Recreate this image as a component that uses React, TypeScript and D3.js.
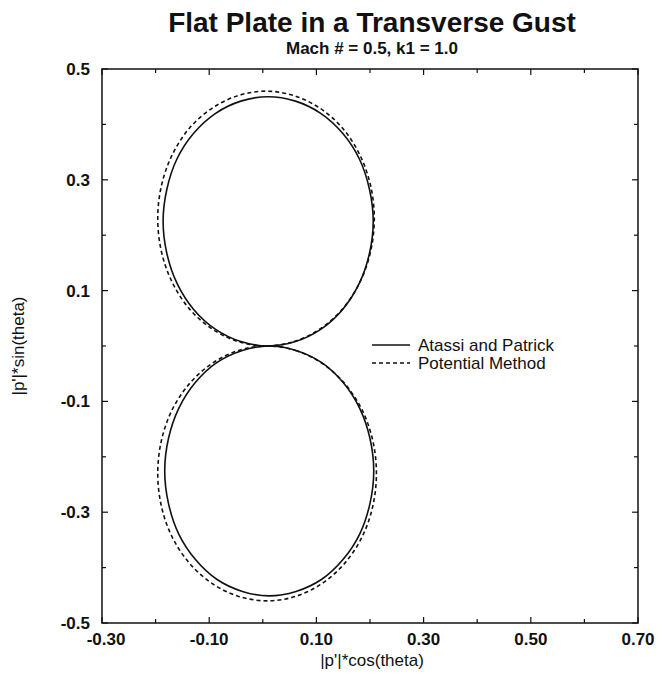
import React from "react";
import * as d3 from "d3";

type P = [number, number];

// Atassi and Patrick (solid) – upper and lower lobes
const atassiUpper: P[] = [
  [0.010, 0.000], [0.061, 0.008], [0.108, 0.030], [0.149, 0.066], [0.180, 0.113],
  [0.199, 0.167], [0.206, 0.225], [0.199, 0.283], [0.180, 0.338], [0.149, 0.384],
  [0.108, 0.420], [0.061, 0.442], [0.010, 0.450], [-0.041, 0.442], [-0.088, 0.420],
  [-0.129, 0.384], [-0.160, 0.338], [-0.179, 0.283], [-0.186, 0.225], [-0.179, 0.167],
  [-0.160, 0.113], [-0.129, 0.066], [-0.088, 0.030], [-0.041, 0.008],
];
const atassiLower: P[] = [
  [0.012, 0.000], [0.062, -0.008], [0.110, -0.030], [0.150, -0.066], [0.181, -0.113],
  [0.200, -0.167], [0.207, -0.226], [0.200, -0.284], [0.181, -0.339], [0.150, -0.385],
  [0.110, -0.421], [0.062, -0.443], [0.012, -0.451], [-0.038, -0.443], [-0.086, -0.421],
  [-0.126, -0.385], [-0.157, -0.339], [-0.176, -0.284], [-0.183, -0.226], [-0.176, -0.167],
  [-0.157, -0.113], [-0.126, -0.066], [-0.086, -0.030], [-0.038, -0.008],
];
// Potential Method (dashed)
const potentialUpper: P[] = [
  [0.006, 0.000], [0.058, 0.008], [0.107, 0.031], [0.149, 0.067], [0.181, 0.115],
  [0.201, 0.170], [0.208, 0.230], [0.201, 0.290], [0.181, 0.345], [0.149, 0.393],
  [0.107, 0.429], [0.058, 0.452], [0.006, 0.460], [-0.046, 0.452], [-0.095, 0.429],
  [-0.137, 0.393], [-0.169, 0.345], [-0.189, 0.290], [-0.196, 0.230], [-0.189, 0.170],
  [-0.169, 0.115], [-0.137, 0.067], [-0.095, 0.031], [-0.046, 0.008],
];
const potentialLower: P[] = [
  [0.008, 0.000], [0.061, -0.008], [0.110, -0.031], [0.152, -0.067], [0.185, -0.115],
  [0.205, -0.170], [0.212, -0.230], [0.205, -0.290], [0.185, -0.345], [0.152, -0.393],
  [0.110, -0.429], [0.061, -0.452], [0.008, -0.460], [-0.045, -0.452], [-0.094, -0.429],
  [-0.136, -0.393], [-0.169, -0.345], [-0.189, -0.290], [-0.196, -0.230], [-0.189, -0.170],
  [-0.169, -0.115], [-0.136, -0.067], [-0.094, -0.031], [-0.045, -0.008],
];

const xTickLabels = ["-0.30", "-0.10", "0.10", "0.30", "0.50", "0.70"];
const yTickLabels = ["0.5", "0.3", "0.1", "-0.1", "-0.3", "-0.5"];
const minorTicks = [-0.3, -0.2, -0.1, 0.0, 0.1, 0.2, 0.3, 0.4, 0.5, 0.6, 0.7];
const minorYTicks = [-0.5, -0.4, -0.3, -0.2, -0.1, 0.0, 0.1, 0.2, 0.3, 0.4, 0.5];

const seriesNames = ["Atassi and Patrick", "Potential Method"];

export default function App() {
  const left = 102, right = 638, top = 69, bottom = 623;
  const x = d3.scaleLinear().domain([-0.3, 0.7]).range([left, right]);
  const y = d3.scaleLinear().domain([-0.5, 0.5]).range([bottom, top]);
  const line = d3
    .line<P>()
    .x((d) => x(d[0]))
    .y((d) => y(d[1]))
    .curve(d3.curveCatmullRomClosed.alpha(0.5));
  const font = "'Liberation Sans', Arial, Helvetica, sans-serif";

  const xMajor = xTickLabels.map(Number);
  const yMajor = yTickLabels.map(Number);

  return (
    <svg
      width={666}
      height={676}
      style={{ position: "absolute", left: 0, top: 0, background: "#fff" }}
      fontFamily={font}
    >
      <rect x={0} y={0} width={666} height={676} fill="#fff" />
      <text x={372} y={32} textAnchor="middle" fontSize={28} fontWeight="bold" fill="#111">
        Flat Plate in a Transverse Gust
      </text>
      <text x={372} y={54} textAnchor="middle" fontSize={17} fontWeight="bold" fill="#111">
        Mach # = 0.5, k1 = 1.0
      </text>

      {/* frame */}
      <rect x={left} y={top} width={right - left} height={bottom - top} fill="none" stroke="#111" strokeWidth={1.5} />

      {/* ticks */}
      {minorTicks.map((v, i) => {
        const major = xMajor.some((m) => Math.abs(m - v) < 1e-9);
        const len = major ? 6 : 4;
        return (
          <g key={"xt" + i} stroke="#111" strokeWidth={1.2}>
            <line x1={x(v)} x2={x(v)} y1={bottom} y2={bottom - len} />
            <line x1={x(v)} x2={x(v)} y1={top} y2={top + len} />
          </g>
        );
      })}
      {minorYTicks.map((v, i) => {
        const major = yMajor.some((m) => Math.abs(m - v) < 1e-9);
        const len = major ? 6 : 4;
        return (
          <g key={"yt" + i} stroke="#111" strokeWidth={1.2}>
            <line x1={left} x2={left + len} y1={y(v)} y2={y(v)} />
            <line x1={right} x2={right - len} y1={y(v)} y2={y(v)} />
          </g>
        );
      })}

      {/* tick labels */}
      {xTickLabels.map((t, i) => (
        <text key={"xl" + i} x={x(Number(t)) + (i === 0 ? 4 : 0)} y={bottom + 22} textAnchor="middle" fontSize={17} fontWeight="bold" fill="#111">
          {t}
        </text>
      ))}
      {yTickLabels.map((t, i) => (
        <text key={"yl" + i} x={left - 12} y={y(Number(t)) + 6} textAnchor="end" fontSize={17} fontWeight="bold" fill="#111">
          {t}
        </text>
      ))}

      {/* axis titles */}
      <text x={372} y={666} textAnchor="middle" fontSize={17} fill="#111">
        |p'|*cos(theta)
      </text>
      <text transform={`translate(24,${(top + bottom) / 2}) rotate(-90)`} textAnchor="middle" fontSize={17} fill="#111">
        |p'|*sin(theta)
      </text>

      {/* curves */}
      <path d={line(atassiUpper) || ""} fill="none" stroke="#111" strokeWidth={1.6} />
      <path d={line(atassiLower) || ""} fill="none" stroke="#111" strokeWidth={1.6} />
      <path d={line(potentialUpper) || ""} fill="none" stroke="#111" strokeWidth={1.6} strokeDasharray="4,3" />
      <path d={line(potentialLower) || ""} fill="none" stroke="#111" strokeWidth={1.6} strokeDasharray="4,3" />

      {/* legend */}
      {seriesNames.map((name, i) => (
        <g key={"lg" + i}>
          <line
            x1={372}
            x2={410}
            y1={345 + i * 18}
            y2={345 + i * 18}
            stroke="#111"
            strokeWidth={1.6}
            strokeDasharray={i === 1 ? "4,3" : undefined}
          />
          <text x={418} y={351 + i * 18} fontSize={17} fill="#111">
            {name}
          </text>
        </g>
      ))}
    </svg>
  );
}
